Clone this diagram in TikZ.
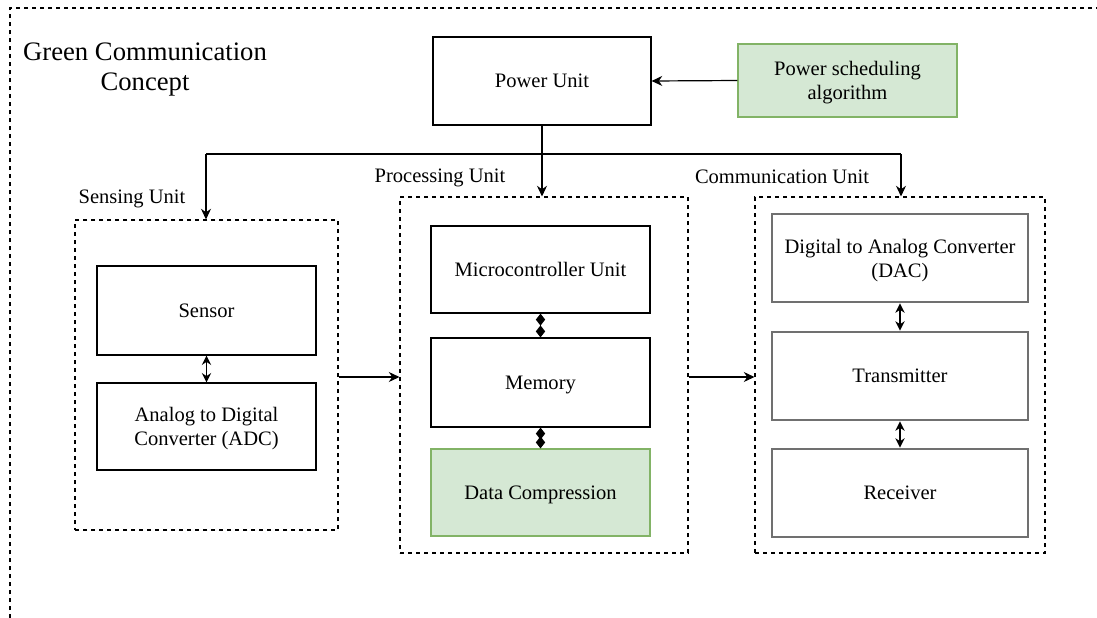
\documentclass[tikz,border=0pt]{standalone}
\usepackage{fontspec}
\setmainfont{Liberation Serif}
\usetikzlibrary{arrows.meta}
\definecolor{greenfill}{HTML}{D5E8D4}
\definecolor{greenline}{HTML}{82B366}
\definecolor{boxgray}{HTML}{707070}
\tikzset{
  unitbox/.style={draw=black, line width=0.9pt, align=center, font=\fontsize{15.4}{18}\selectfont,
    inner sep=2pt, text depth=0pt},
  greenbox/.style={unitbox, draw=greenline, fill=greenfill},
  graybox/.style={unitbox, draw=boxgray, line width=2.2pt},
  groupbox/.style={draw=black, line width=0.8pt, dash pattern=on 3pt off 3pt},
  grouplabel/.style={font=\fontsize{15.4}{18}\selectfont, inner sep=0pt},
  arr/.style={line width=0.9pt, -{Stealth[length=8pt,width=7.5pt]}},
  dblarr/.style={line width=1pt, {Stealth[length=7pt,width=7pt]}-{Stealth[length=7pt,width=7pt]}},
  diaarr/.style={line width=0.9pt, {Diamond[length=9pt,width=7pt]}-{Diamond[length=9pt,width=7pt]}},
}
\begin{document}
\begin{tikzpicture}[x=0.75pt,y=-0.75pt]
\useasboundingbox (0,0) rectangle (1097,618);

% outer frame (only top and left edges fall inside the page)
\draw[groupbox] (10,618) -- (10,8) -- (1097,8);
\node[align=center, font=\fontsize{20}{22.5}\selectfont] (title) at (145,70)
  {Green Communication\\Concept};

% power section
\node[unitbox, minimum width=163.5pt, minimum height=66pt] (pu) at (542,81) {Power Unit};
\node[greenbox, minimum width=164.25pt, minimum height=54.75pt] (psa) at (847.5,80.5)
  {Power scheduling\\algorithm};

% group frames
\node[groupbox, minimum width=197.25pt, minimum height=232.5pt] (sens) at (206.5,375) {};
\node[groupbox, minimum width=216pt, minimum height=267pt] (proc) at (544,375) {};
\node[groupbox, minimum width=217.5pt, minimum height=267pt] (comm) at (900,375) {};
\node[grouplabel] (senslbl) at (132,199) {Sensing Unit};
\node[grouplabel] (proclbl) at (440,178) {Processing Unit};
\node[grouplabel] (commlbl) at (782,177) {Communication Unit};

% sensing unit
\node[unitbox, minimum width=164.25pt, minimum height=66.75pt] (sensor) at (206.5,310.5) {Sensor};
\node[unitbox, minimum width=164.25pt, minimum height=65.25pt] (adc) at (206.5,426.5)
  {Analog to Digital\\Converter (ADC)};

% processing unit
\node[unitbox, minimum width=164.25pt, minimum height=65.25pt] (mcu) at (540.5,269.5) {Microcontroller Unit};
\node[unitbox, minimum width=164.25pt, minimum height=66.75pt] (mem) at (540.5,382.5) {Memory};
\node[greenbox, minimum width=164.25pt, minimum height=65.25pt] (dc) at (540.5,492.5) {Data Compression};

% communication unit
\node[graybox, minimum width=192pt, minimum height=66pt] (dac) at (900,258)
  {Digital to Analog Converter\\(DAC)};
\node[graybox, minimum width=192pt, minimum height=66pt] (tx) at (900,376) {Transmitter};
\node[graybox, minimum width=192pt, minimum height=66pt] (rx) at (900,493) {Receiver};

% power distribution
\coordinate (jl) at (206,154);
\coordinate (jr) at (901,154);
\draw[arr] (psa.west) -- (pu.east);
\draw[arr] (pu.south) -- (pu.south |- proc.north);
\draw[line width=0.9pt] (jl) -- (jr);
\draw[arr] (jl) -- (jl |- sens.north);
\draw[arr] (jr) -- (jr |- comm.north);

% data flow between units
\draw[arr] (sens.east |- 0,377) -- (proc.west |- 0,377);
\draw[arr] (proc.east |- 0,377) -- (comm.west |- 0,377);

% links inside the units
\draw[dblarr] (sensor.south) -- (adc.north);
\draw[diaarr] (mcu.south) -- (mem.north);
\draw[diaarr] (mem.south) -- (dc.north);
\draw[dblarr] (dac.south) -- (tx.north);
\draw[dblarr] (tx.south) -- (rx.north);
\end{tikzpicture}
\end{document}
